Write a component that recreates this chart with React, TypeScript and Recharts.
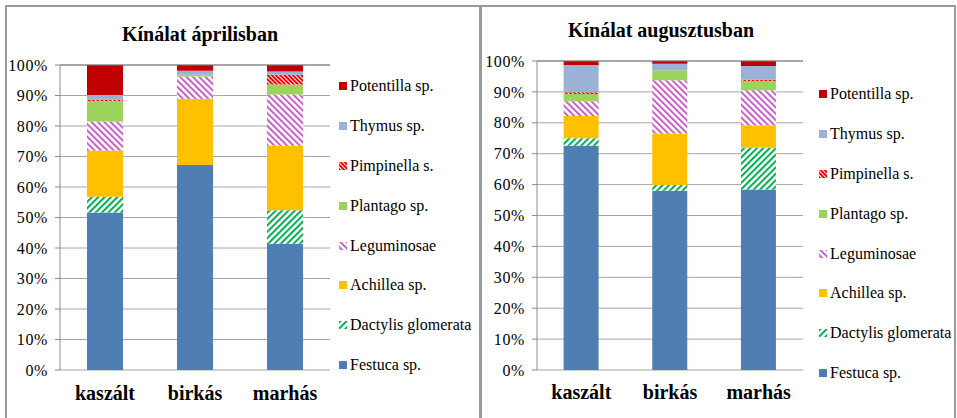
import { BarChart, Bar, XAxis, YAxis, CartesianGrid, Legend, ReferenceLine } from "recharts";

const categories = ["kaszált", "birkás", "marhás"];
const speciesKeys = ["festuca", "dactylis", "achillea", "leguminosae", "plantago", "pimpinella", "thymus", "potentilla"];
const speciesNames = ["Festuca sp.", "Dactylis glomerata", "Achillea sp.", "Leguminosae", "Plantago sp.", "Pimpinella s.", "Thymus sp.", "Potentilla sp."];
const yTicks = [0, 10, 20, 30, 40, 50, 60, 70, 80, 90, 100];

// április (%)
const aprFestuca = [51.6, 67.2, 41.4];
const aprDactylis = [5.2, 0, 11.0];
const aprAchillea = [15.2, 21.7, 21.1];
const aprLeguminosae = [9.5, 7.3, 16.8];
const aprPlantago = [6.6, 0.6, 3.3];
const aprPimpinella = [0.5, 0, 3.2];
const aprThymus = [1.6, 1.3, 1.1];
const aprPotentilla = [9.8, 1.9, 2.1];

// augusztus (%)
const augFestuca = [72.6, 58.0, 58.4];
const augDactylis = [2.4, 1.9, 13.5];
const augAchillea = [7.2, 16.6, 7.3];
const augLeguminosae = [4.8, 17.3, 11.3];
const augPlantago = [2.3, 3.2, 3.0];
const augPimpinella = [0.6, 0, 0.4];
const augThymus = [8.8, 2.1, 4.5];
const augPotentilla = [1.3, 0.9, 1.6];

const FILLS = [
  "#4F7EB3",
  "url(#pat-dactylis)",
  "#FFC000",
  "url(#pat-legum)",
  "#9BD35C",
  "url(#pat-pimp)",
  "#9BB1D5",
  "#C00000",
];

function buildRows(series: number[][]) {
  return categories.map((name, i) => {
    const row: Record<string, string | number> = { name };
    speciesKeys.forEach((k, j) => {
      row[k] = series[j][i];
    });
    return row;
  });
}

const aprRows = buildRows([aprFestuca, aprDactylis, aprAchillea, aprLeguminosae, aprPlantago, aprPimpinella, aprThymus, aprPotentilla]);
const augRows = buildRows([augFestuca, augDactylis, augAchillea, augLeguminosae, augPlantago, augPimpinella, augThymus, augPotentilla]);

const FONT = "'Liberation Serif', 'Times New Roman', serif";

function LegendBox() {
  const items = speciesNames.map((n, i) => ({ n, fill: FILLS[i] })).reverse();
  return (
    <div style={{ fontFamily: FONT, fontSize: 16, color: "#000" }}>
      {items.map((it) => (
        <div key={it.n} style={{ height: 39.9, display: "flex", alignItems: "center", whiteSpace: "nowrap" }}>
          <svg width={8} height={8} style={{ marginRight: 3 }}>
            <rect width={8} height={8} fill={it.fill} />
          </svg>
          <span>{it.n}</span>
        </div>
      ))}
    </div>
  );
}

type PanelProps = {
  rows: Record<string, string | number>[];
  left: number;
  width: number;
  marginTop: number;
  yWidth: number;
  marginRight: number;
  legendLeft: number;
  legendTop: number;
  labelMargin: number;
};

function Panel(p: PanelProps) {
  return (
    <div style={{ position: "absolute", left: p.left, top: 7 }}>
      <BarChart
        width={p.width}
        height={411}
        data={p.rows}
        margin={{ top: p.marginTop, right: p.marginRight, bottom: 0, left: 0 }}
        barCategoryGap="30%"
      >
        <CartesianGrid vertical={false} stroke="#a6a6a6" />
        <XAxis
          xAxisId="grid"
          type="number"
          domain={[0, 3]}
          ticks={[0, 1, 2, 3]}
          height={0}
          tickSize={6}
          tickFormatter={() => ""}
          stroke="#8c8c8c"
        />
        <XAxis
          dataKey="name"
          height={48}
          axisLine={false}
          tickLine={false}
          tickSize={0}
          tickMargin={p.labelMargin}
          tick={{ fill: "#000", fontSize: 20, fontWeight: "bold", fontFamily: FONT }}
        />
        <YAxis
          width={p.yWidth}
          domain={[0, 100]}
          ticks={yTicks}
          tickFormatter={(v) => `${v}%`}
          tickSize={5}
          tickMargin={7}
          stroke="#8c8c8c"
          tick={{ fill: "#000", fontSize: 16, fontFamily: FONT, letterSpacing: 0.6 }}
        />
        <ReferenceLine y={100} stroke="#7a7a7a" />
        <ReferenceLine x={3} xAxisId="grid" stroke="#7a7a7a" />
        {speciesKeys.map((k, i) => (
          <Bar
            key={k}
            dataKey={k}
            name={speciesNames[i]}
            stackId="a"
            fill={FILLS[i]}
            isAnimationActive={false}
          />
        ))}
        <Legend
          layout="vertical"
          align="center"
          verticalAlign="middle"
          wrapperStyle={{ left: p.legendLeft, top: p.legendTop, width: 140 }}
          content={() => <LegendBox />}
        />
      </BarChart>
    </div>
  );
}

function Title({ text, center, baseline }: { text: string; center: number; baseline: number }) {
  return (
    <div
      style={{
        position: "absolute",
        left: center - 150,
        width: 300,
        top: baseline - 18,
        textAlign: "center",
        fontFamily: FONT,
        fontWeight: "bold",
        fontSize: 20,
        lineHeight: "22px",
        color: "#000",
      }}
    >
      {text}
    </div>
  );
}

export default function App() {
  return (
    <div style={{ position: "absolute", left: 0, top: 0, width: 957, height: 418, background: "#fff", overflow: "hidden" }}>
      <svg width={0} height={0} style={{ position: "absolute" }}>
        <defs>
          <pattern id="pat-dactylis" width={4.5} height={4.5} patternUnits="userSpaceOnUse" patternTransform="rotate(45)">
            <rect width={4.5} height={4.5} fill="#fff" />
            <rect width={2} height={4.5} fill="#00B050" />
          </pattern>
          <pattern id="pat-legum" width={4.5} height={4.5} patternUnits="userSpaceOnUse" patternTransform="rotate(-45)">
            <rect width={4.5} height={4.5} fill="#fff" />
            <rect width={2} height={4.5} fill="#C85FC8" />
          </pattern>
          <pattern id="pat-pimp" width={3} height={3} patternUnits="userSpaceOnUse" patternTransform="rotate(-45)">
            <rect width={3} height={3} fill="#fff" />
            <rect width={2} height={3} fill="#FF0000" />
          </pattern>
        </defs>
      </svg>
      <div style={{ position: "absolute", left: 5, top: 5, width: 476, height: 420, border: "2px solid #9a9a9a", boxSizing: "border-box" }} />
      <div style={{ position: "absolute", left: 480, top: 5, width: 476, height: 420, border: "2px solid #9a9a9a", boxSizing: "border-box" }} />
      <Title text="Kínálat áprilisban" center={200} baseline={41} />
      <Title text="Kínálat augusztusban" center={661} baseline={37} />
      <Panel
        rows={aprRows}
        left={7}
        width={473}
        marginTop={58}
        yWidth={53}
        marginRight={150}
        legendLeft={332}
        legendTop={59}
        labelMargin={16}
      />
      <Panel
        rows={augRows}
        left={483}
        width={471}
        marginTop={54}
        yWidth={54}
        marginRight={151}
        legendLeft={336}
        legendTop={67}
        labelMargin={15}
      />
    </div>
  );
}
